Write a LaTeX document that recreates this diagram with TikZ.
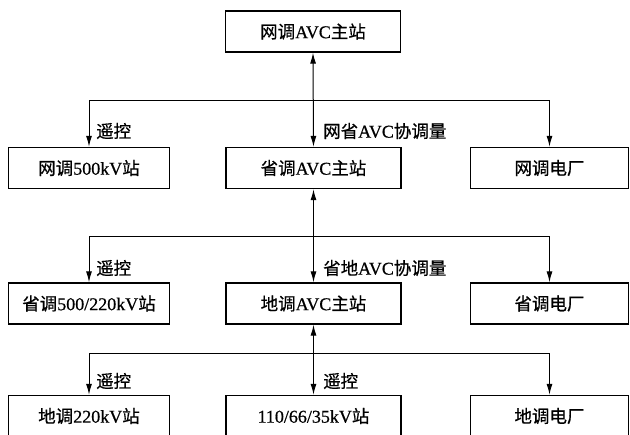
\documentclass[tikz,border=0pt]{standalone}
\usepackage{fontspec}
\setmainfont[FakeBold=0.6]{Liberation Serif}
\newfontfamily\cjkfont[FakeBold=0.6]{Noto Sans CJK SC}
\newcommand{\zh}[1]{{\cjkfont\fontsize{17.5}{20}\selectfont #1}}
\usetikzlibrary{arrows.meta}
\begin{document}
\begin{tikzpicture}[x=1pt,y=-1pt,
  box/.style={draw,line width=1.4pt,rectangle,inner sep=0pt,minimum height=41pt,
    font=\fontsize{18}{20}\selectfont},
  wbox/.style={box,minimum width=175pt},
  lbox/.style={box,minimum width=161pt},
  rbox/.style={box,minimum width=158pt},
  conn/.style={line width=1pt},
  tip/.tip={Latex[length=11pt,width=6pt]},
  arr/.style={conn,-tip},
  darr/.style={conn,tip-tip},
  lab/.style={anchor=west,inner sep=0pt,font=\fontsize{18}{20}\selectfont}]
\useasboundingbox (0,0) rectangle (630,435);
% row 1
\node[wbox] (T) at (313,31.5) {\zh{网调}AVC\zh{主站}};
% row 2
\node[lbox] (L2) at (89,168) {\zh{网调}500kV\zh{站}};
\node[wbox] (M2) at (313.5,168) {\zh{省调}AVC\zh{主站}};
\node[rbox] (R2) at (549.5,168) {\zh{网调电厂}};
% row 3
\node[lbox] (L3) at (89,303.5) {\zh{省调}500/220kV\zh{站}};
\node[wbox] (M3) at (313.5,303.5) {\zh{地调}AVC\zh{主站}};
\node[rbox] (R3) at (549.5,303.5) {\zh{省调电厂}};
% row 4
\node[lbox] (L4) at (89,416) {\zh{地调}220kV\zh{站}};
\node[wbox] (M4) at (313.5,416) {110/66/35kV\zh{站}};
\node[rbox] (R4) at (549.5,416) {\zh{地调电厂}};
% junction levels
\coordinate (h1) at (0,101);
\coordinate (h2) at (0,237);
\coordinate (h3) at (0,354);
% level 1 -> 2
\draw[conn] (L2.north |- h1) -- (R2.north |- h1);
\draw[arr] (L2.north |- h1) -- (L2.north);
\draw[arr] (R2.north |- h1) -- (R2.north);
\draw[darr] (T.south) -- (M2.north);
% level 2 -> 3
\draw[conn] (L3.north |- h2) -- (R3.north |- h2);
\draw[arr] (L3.north |- h2) -- (L3.north);
\draw[arr] (R3.north |- h2) -- (R3.north);
\draw[darr] (M2.south) -- (M3.north);
% level 3 -> 4
\draw[conn] (L4.north |- h3) -- (R4.north |- h3);
\draw[arr] (L4.north |- h3) -- (L4.north);
\draw[arr] (R4.north |- h3) -- (R4.north);
\draw[darr] (M3.south) -- (M4.north);
% labels
\node[lab] (a1) at (96,131) {\zh{遥控}};
\node[lab] (b1) at (323,131) {\zh{网省}AVC\zh{协调量}};
\node[lab] (a2) at (96,268) {\zh{遥控}};
\node[lab] (b2) at (323,268) {\zh{省地}AVC\zh{协调量}};
\node[lab] (a3) at (96,381) {\zh{遥控}};
\node[lab] (b3) at (323,381) {\zh{遥控}};
\end{tikzpicture}
\end{document}
